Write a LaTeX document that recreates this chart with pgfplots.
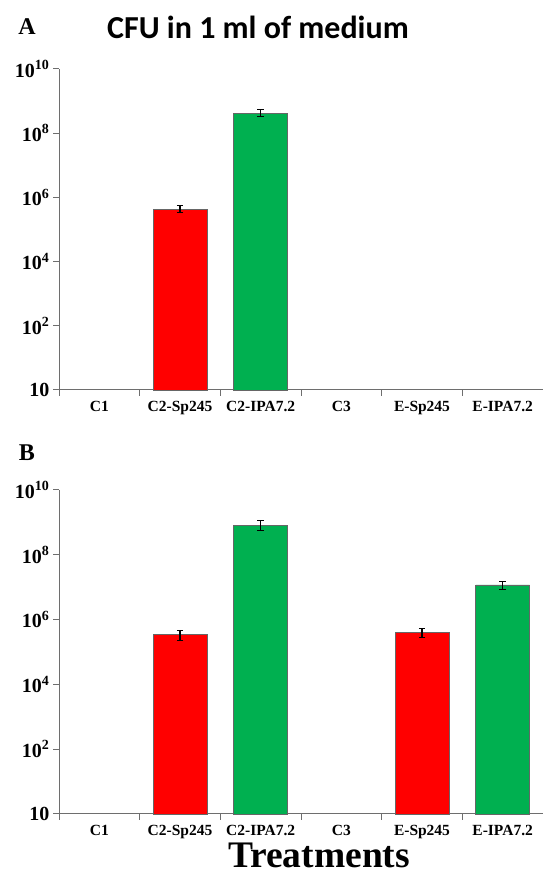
\documentclass[border=0pt]{standalone}
\usepackage{pgfplots}
\pgfplotsset{compat=1.18}
\usepackage{fontspec}
\setmainfont{Liberation Serif}
\newfontfamily\carlito{Carlito}
\definecolor{xlgreen}{RGB}{0,176,80}
\definecolor{axgray}{RGB}{110,110,110}
\begin{document}
\begin{tikzpicture}
\path[use as bounding box] (0pt,0pt) rectangle (543pt,875pt);
% Panel A
\begin{axis}[
    at={(59pt,485pt)}, anchor=south west,
    scale only axis, width=484pt, height=321pt,
    ymode=log, ymin=1, ymax=1e10,
    xmin=-0.5, xmax=5.5,
    axis x line=bottom, axis y line=left,
    axis line style={draw=axgray, line width=1pt, -},
    ytick={1,1e2,1e4,1e6,1e8,1e10},
    yticklabels={10, 10\textsuperscript{2}, 10\textsuperscript{4}, 10\textsuperscript{6}, 10\textsuperscript{8}, 10\textsuperscript{10}},
    yminorticks=false,
    xtick={-0.5,0.5,1.5,2.5,3.5,4.5,5.5},
    x tick label as interval,
    xticklabels={C1, C2-Sp245, C2-IPA7.2, C3, E-Sp245, E-IPA7.2},
    tick align=outside,
    tick style={draw=axgray, line width=1pt},
    major tick length=6pt,
    yticklabel style={font=\fontsize{20}{20}\selectfont\bfseries},
    xticklabel style={font=\fontsize{15.5}{15.5}\selectfont\bfseries, yshift=-2pt},
    clip=false,
  ]
\addplot[ybar, bar width=0.667, fill=red, draw=black!60, line width=0.6pt,
  error bars/.cd, y dir=both, y explicit,
  error bar style={black, line width=1.3pt},
  error mark options={rotate=90, mark size=3.2pt, black, line width=1pt}]
  coordinates {(1,4.4e5) +- (0,1.1e5)};
\addplot[ybar, bar width=0.667, fill=xlgreen, draw=black!60, line width=0.6pt,
  error bars/.cd, y dir=both, y explicit,
  error bar style={black, line width=1.3pt},
  error mark options={rotate=90, mark size=3.2pt, black, line width=1pt}]
  coordinates {(2,4.3e8) +- (0,1.1e8)};
\end{axis}
% Panel B
\begin{axis}[
    at={(59pt,61pt)}, anchor=south west,
    scale only axis, width=484pt, height=324pt,
    ymode=log, ymin=1, ymax=1e10,
    xmin=-0.5, xmax=5.5,
    axis x line=bottom, axis y line=left,
    axis line style={draw=axgray, line width=1pt, -},
    ytick={1,1e2,1e4,1e6,1e8,1e10},
    yticklabels={10, 10\textsuperscript{2}, 10\textsuperscript{4}, 10\textsuperscript{6}, 10\textsuperscript{8}, 10\textsuperscript{10}},
    yminorticks=false,
    xtick={-0.5,0.5,1.5,2.5,3.5,4.5,5.5},
    x tick label as interval,
    xticklabels={C1, C2-Sp245, C2-IPA7.2, C3, E-Sp245, E-IPA7.2},
    tick align=outside,
    tick style={draw=axgray, line width=1pt},
    major tick length=6pt,
    yticklabel style={font=\fontsize{20}{20}\selectfont\bfseries},
    xticklabel style={font=\fontsize{15.5}{15.5}\selectfont\bfseries, yshift=-2pt},
    clip=false,
  ]
\addplot[ybar, bar width=0.667, fill=red, draw=black!60, line width=0.6pt,
  error bars/.cd, y dir=both, y explicit,
  error bar style={black, line width=1.3pt},
  error mark options={rotate=90, mark size=3.2pt, black, line width=1pt}]
  coordinates {(1,3.5e5) +- (0,1.2e5) (4,4.1e5) +- (0,1.3e5)};
\addplot[ybar, bar width=0.667, fill=xlgreen, draw=black!60, line width=0.6pt,
  error bars/.cd, y dir=both, y explicit,
  error bar style={black, line width=1.3pt},
  error mark options={rotate=90, mark size=3.2pt, black, line width=1pt}]
  coordinates {(2,8.3e8) +- (0,2.8e8) (5,1.18e7) +- (0,3.5e6)};
\end{axis}
\node[font=\carlito\bfseries\fontsize{32}{32}\selectfont] at (258pt,848pt) {CFU in 1 ml of medium};
\node[font=\fontsize{24}{24}\selectfont\bfseries] at (27pt,848pt) {A};
\node[font=\fontsize{24}{24}\selectfont\bfseries] at (27pt,422pt) {B};
\node[font=\fontsize{37.5}{37.5}\selectfont\bfseries, inner sep=0pt, anchor=base] at (319pt,8pt) {Treatments};
\end{tikzpicture}
\end{document}
